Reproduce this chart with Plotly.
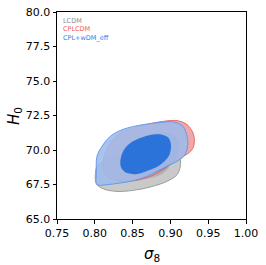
import plotly.graph_objects as go

# Series names (legend order)
series_names = ["LCDM", "CPLCDM", "CPL+wDM_eff"]

# Contour boundaries (sigma8, H0)
lcdm_outer_x = [0.8007, 0.8029, 0.8117, 0.8294, 0.8514, 0.8690, 0.8867, 0.9021, 0.9123, 0.9131,
                0.9087, 0.8955, 0.8735, 0.8514, 0.8294, 0.8117, 0.8029, 0.8007]
lcdm_outer_y = [68.21, 68.82, 69.18, 69.59, 69.90, 70.05, 70.02, 69.83, 69.42, 68.82,
                68.21, 67.73, 67.32, 67.08, 67.00, 67.17, 67.49, 67.85]

lcdm_inner_x = [0.8380, 0.8450, 0.8600, 0.8780, 0.8930, 0.8980, 0.8900, 0.8720, 0.8540, 0.8410]
lcdm_inner_y = [68.40, 68.95, 69.30, 69.40, 69.20, 68.80, 68.30, 67.95, 67.90, 68.05]

cpl_outer_x = [0.8108, 0.8126, 0.8205, 0.8338, 0.8514, 0.8735, 0.8911, 0.9087, 0.9220, 0.9299, 0.9317,
               0.9299, 0.9242, 0.9131, 0.8999, 0.8867, 0.8735, 0.8602, 0.8470, 0.8338, 0.8205, 0.8126]
cpl_outer_y = [68.82, 69.54, 70.51, 71.23, 71.59, 71.91, 72.08, 72.13, 71.84, 71.23, 70.63,
               70.14, 69.78, 69.42, 68.94, 68.45, 68.09, 67.85, 67.75, 67.73, 67.97, 68.33]

cpl_inner_x = [0.8382, 0.8426, 0.8558, 0.8735, 0.8911, 0.9043, 0.9109, 0.9096, 0.8999, 0.8845, 0.8646, 0.8470]
cpl_inner_y = [69.06, 70.02, 70.75, 71.16, 71.28, 71.11, 70.51, 69.66, 68.94, 68.45, 68.21, 68.33]

wdm_outer_x = [0.8029, 0.8020, 0.8029, 0.8095, 0.8205, 0.8360, 0.8514, 0.8690, 0.8867, 0.9043, 0.9167,
               0.9220, 0.9228, 0.9184, 0.9087, 0.8955, 0.8823, 0.8690, 0.8514, 0.8338, 0.8161]
wdm_outer_y = [67.49, 68.33, 69.54, 70.27, 70.99, 71.47, 71.71, 71.88, 72.00, 72.03, 71.71,
               70.99, 70.27, 69.59, 69.18, 68.82, 68.45, 68.09, 67.78, 67.61, 67.49]

wdm_inner_x = [0.8338, 0.8373, 0.8470, 0.8602, 0.8757, 0.8889, 0.8977, 0.9008, 0.8977, 0.8867,
               0.8713, 0.8558, 0.8426, 0.8351]
wdm_inner_y = [69.18, 69.90, 70.51, 70.87, 71.11, 71.11, 70.87, 70.27, 69.54, 68.94,
               68.53, 68.26, 68.33, 68.70]

x_ticks = [0.75, 0.80, 0.85, 0.90, 0.95, 1.00]
y_ticks = [65.0, 67.5, 70.0, 72.5, 75.0, 77.5, 80.0]

def closed(a):
    return list(a) + [a[0]]

fig = go.Figure()

layers = [
    (lcdm_outer_x, lcdm_outer_y, "rgba(195,195,195,0.9)", "rgba(150,150,150,0.9)"),
    (lcdm_inner_x, lcdm_inner_y, "rgba(160,160,160,0.6)", "rgba(150,150,150,0.0)"),
    (cpl_outer_x, cpl_outer_y, "rgba(238,145,145,0.8)", "rgba(226,100,100,0.9)"),
    (cpl_inner_x, cpl_inner_y, "rgba(140,110,160,0.5)", "rgba(140,110,160,0.0)"),
    (wdm_outer_x, wdm_outer_y, "rgba(157,187,236,0.88)", "rgba(90,150,240,0.9)"),
    (wdm_inner_x, wdm_inner_y, "rgba(30,108,215,0.9)", "rgba(30,108,215,0.0)"),
]
for xs, ys, fc, lc in layers:
    fig.add_trace(go.Scatter(
        x=closed(xs), y=closed(ys), mode="lines", fill="toself",
        fillcolor=fc, line=dict(color=lc, width=1, shape="spline", smoothing=1.0),
        showlegend=False, hoverinfo="skip"))

legend_colors = ["#8c8c8c", "#e8605a", "#2a7cf0"]
for i, (name, col) in enumerate(zip(series_names, legend_colors)):
    fig.add_annotation(text=name, xref="paper", yref="paper", x=0.02, y=0.985 - i * 0.04,
                       xanchor="left", yanchor="top", showarrow=False,
                       font=dict(size=6.5, color=col, family="DejaVu Sans"))

# Axis titles as annotations for exact placement
fig.add_annotation(text="<i>σ</i><sub>8</sub>", xref="paper", yref="paper", x=0.5, y=-0.115,
                   xanchor="center", yanchor="top", showarrow=False,
                   font=dict(size=15, family="DejaVu Sans", color="black"))
fig.add_annotation(text="<i>H</i><sub>0</sub>", xref="paper", yref="paper", x=-0.225, y=0.5,
                   xanchor="center", yanchor="middle", showarrow=False, textangle=-90,
                   font=dict(size=15, family="DejaVu Sans", color="black"))

axis_common = dict(showgrid=False, zeroline=False, showline=True, linecolor="black", linewidth=1,
                   mirror=True, ticks="outside", ticklen=3.5, tickcolor="black", automargin=False,
                   tickfont=dict(size=11, family="DejaVu Sans", color="black"))
fig.update_xaxes(range=[0.75, 1.0], tickvals=x_ticks, ticktext=[f"{v:.2f}" for v in x_ticks],
                 **axis_common)
fig.update_yaxes(range=[65.0, 80.0], tickvals=y_ticks, ticktext=[f"{v:.1f}" for v in y_ticks],
                 **axis_common)
fig.update_layout(width=266, height=265, margin=dict(l=57, r=20, t=12, b=46),
                  plot_bgcolor="white", paper_bgcolor="white")
# remove the default 8px page margin so the figure fills the window exactly
fig.write_html("out.html", config={"displayModeBar": False},
               post_script="document.body.style.margin='0';document.body.style.overflow='hidden';")
